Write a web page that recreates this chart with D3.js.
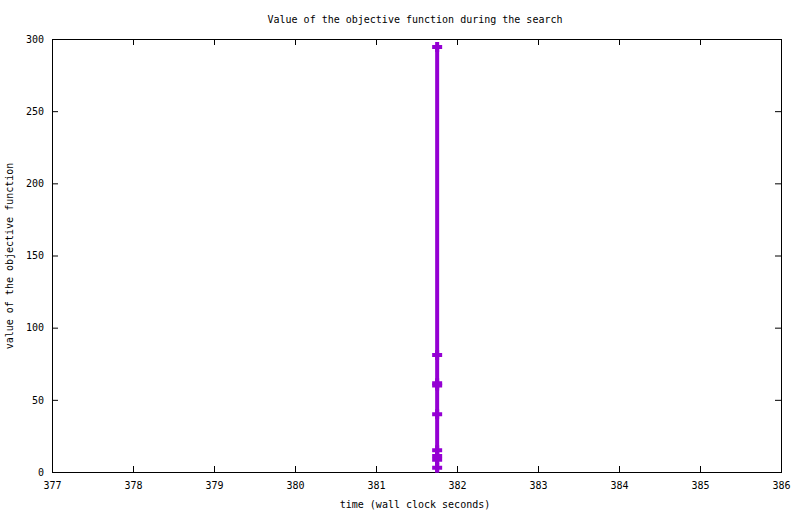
<!DOCTYPE html>
<html>
<head>
<meta charset="utf-8">
<script src="https://cdn.jsdelivr.net/npm/d3@7"></script>
<style>
  body { margin: 0; background: #fff; }
  text { font-family: "DejaVu Sans Mono", monospace; font-size: 10px; fill: #000; }
</style>
</head>
<body>
<div id="chart"></div>
<script>
// data: all evaluations happened at almost the same wall clock time
const times = [381.755, 381.755, 381.755, 381.755, 381.755, 381.755, 381.755, 381.755, 381.755, 381.755]
const values = [294.5, 81, 61.5, 60, 40, 15, 11, 8.5, 3, 0]
const xTicks = [377, 378, 379, 380, 381, 382, 383, 384, 385, 386]
const yTicks = [0, 50, 100, 150, 200, 250, 300]

const dimensions = {
  width: 800,
  height: 514,
  margin: { top: 39, right: 19, bottom: 42, left: 52 }
}
dimensions.ctrWidth = dimensions.width - dimensions.margin.left - dimensions.margin.right
dimensions.ctrHeight = dimensions.height - dimensions.margin.top - dimensions.margin.bottom

const dataset = times.map((t, i) => ({ t: t, v: values[i] }))

const svg = d3.select('#chart').append('svg')
  .attr('width', dimensions.width)
  .attr('height', dimensions.height)

const ctr = svg.append('g')
  .attr('transform', `translate(${dimensions.margin.left},${dimensions.margin.top})`)

const xScale = d3.scaleLinear().domain([377, 386]).range([0, dimensions.ctrWidth])
const yScale = d3.scaleLinear().domain([0, 300]).range([dimensions.ctrHeight, 0])

// ticks on all four sides, pointing inward like gnuplot
const tickLen = 6
const axisStyle = g => {
  g.select('.domain').remove()
  g.selectAll('.tick line').attr('stroke', '#000')
}

ctr.append('g')
  .attr('transform', `translate(0,${dimensions.ctrHeight})`)
  .call(d3.axisBottom(xScale).tickValues(xTicks).tickSizeInner(-tickLen).tickSizeOuter(0).tickPadding(10))
  .call(axisStyle)
  .selectAll('text').attr('font-family', null).attr('font-size', null)

ctr.append('g')
  .call(d3.axisTop(xScale).tickValues(xTicks).tickSizeInner(-tickLen).tickSizeOuter(0).tickFormat(''))
  .call(axisStyle)

ctr.append('g')
  .call(d3.axisLeft(yScale).tickValues(yTicks).tickSizeInner(-tickLen).tickSizeOuter(0).tickPadding(8))
  .call(axisStyle)
  .selectAll('text').attr('font-family', null).attr('font-size', null)

ctr.append('g')
  .attr('transform', `translate(${dimensions.ctrWidth},0)`)
  .call(d3.axisRight(yScale).tickValues(yTicks).tickSizeInner(-tickLen).tickSizeOuter(0).tickFormat(''))
  .call(axisStyle)

// border
ctr.append('rect')
  .attr('width', dimensions.ctrWidth)
  .attr('height', dimensions.ctrHeight)
  .attr('fill', 'none')
  .attr('stroke', '#000')
  .attr('stroke-width', 1)
  .attr('shape-rendering', 'crispEdges')

// line + points
const color = '#9400d3'
const line = d3.line().x(d => xScale(d.t)).y(d => yScale(d.v))

ctr.append('path')
  .datum(dataset)
  .attr('d', line)
  .attr('fill', 'none')
  .attr('stroke', color)
  .attr('stroke-width', 4)

// gnuplot skips point symbols that would cross the border
const cross = 5
ctr.selectAll('.pt')
  .data(dataset.filter(d => yScale(d.v) + cross <= dimensions.ctrHeight + 1))
  .join('path')
  .attr('class', 'pt')
  .attr('d', d => {
    const x = xScale(d.t), y = yScale(d.v)
    return `M${x - cross},${y}H${x + cross}M${x},${y - cross}V${y + cross}`
  })
  .attr('stroke', color)
  .attr('stroke-width', 4)
  .attr('fill', 'none')

// titles
svg.append('text')
  .attr('x', 415)
  .attr('y', 23)
  .attr('text-anchor', 'middle')
  .text('Value of the objective function during the search')

svg.append('text')
  .attr('x', 415)
  .attr('y', 508)
  .attr('text-anchor', 'middle')
  .text('time (wall clock seconds)')

svg.append('text')
  .attr('transform', 'translate(13,256) rotate(-90)')
  .attr('text-anchor', 'middle')
  .text('value of the objective function')
</script>
</body>
</html>
